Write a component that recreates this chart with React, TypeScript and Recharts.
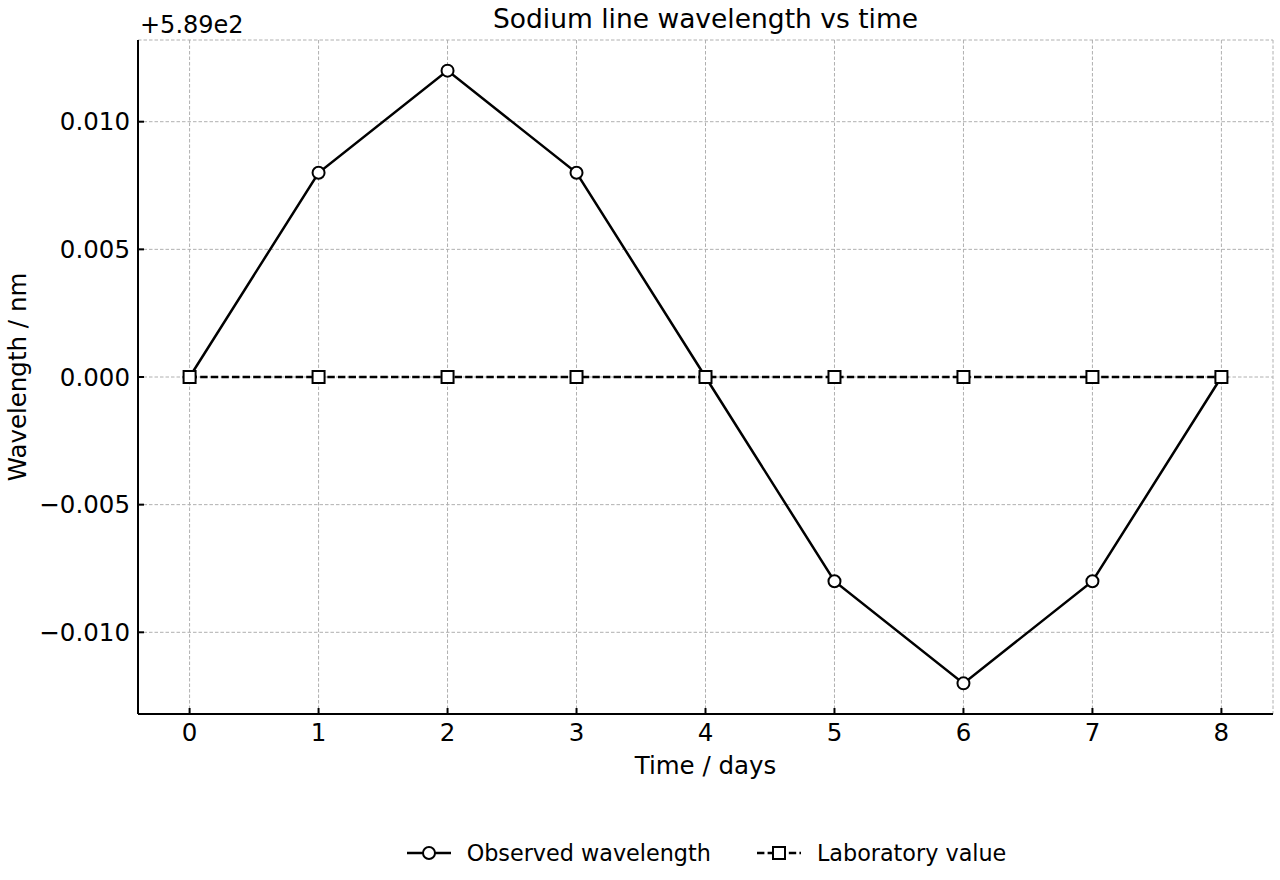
import React from 'react';
import { LineChart, Line, XAxis, YAxis, CartesianGrid } from 'recharts';

// offset from 589 nm (axis shows +5.89e2)
const days = [0, 1, 2, 3, 4, 5, 6, 7, 8];
const observed = [0, 0.008, 0.012, 0.008, 0, -0.008, -0.012, -0.008, 0];
const laboratory = [0, 0, 0, 0, 0, 0, 0, 0, 0];
const xTicks = [0, 1, 2, 3, 4, 5, 6, 7, 8];
const yTicks = [-0.01, -0.005, 0, 0.005, 0.01];

const FONT = '"DejaVu Sans", sans-serif';

const chartData = days.map((d, i) => ({
  day: d,
  observed: observed[i],
  laboratory: laboratory[i],
}));

const fmtY = (v: number) => v.toFixed(3).replace('-', '\u2212');

const Circle = (props: any) => {
  const { cx, cy } = props;
  if (cx == null || cy == null) return null;
  return <circle cx={cx} cy={cy} r={6} fill="#fff" stroke="#000" strokeWidth={2} />;
};

const Square = (props: any) => {
  const { cx, cy } = props;
  if (cx == null || cy == null) return null;
  return <rect x={cx - 6} y={cy - 6} width={12} height={12} fill="#fff" stroke="#000" strokeWidth={2} />;
};

const LegendRow = () => (
  <div
    style={{
      position: 'absolute',
      left: 0,
      width: 1411,
      top: 840,
      display: 'flex',
      justifyContent: 'center',
      alignItems: 'center',
      fontFamily: FONT,
      fontSize: 22.3,
      color: '#000',
    }}
  >
    <svg width={48} height={24} style={{ marginRight: 14 }}>
      <line x1={2} y1={12} x2={46} y2={12} stroke="#000" strokeWidth={2.5} />
      <circle cx={24} cy={12} r={6} fill="#fff" stroke="#000" strokeWidth={2} />
    </svg>
    <span style={{ marginRight: 44 }}>Observed wavelength</span>
    <svg width={48} height={24} style={{ marginRight: 14 }}>
      <line x1={2} y1={12} x2={46} y2={12} stroke="#000" strokeWidth={2.5} strokeDasharray="7.4 3.2" />
      <rect x={18} y={6} width={12} height={12} fill="#fff" stroke="#000" strokeWidth={2} />
    </svg>
    <span>Laboratory value</span>
  </div>
);

export default function App() {
  return (
    <div style={{ position: 'relative', width: 1280, height: 880, background: '#fff' }}>
      <style>{'body{margin:0}'}</style>
      <LineChart
        width={1280}
        height={880}
        data={chartData}
        margin={{ top: 40, right: 7, bottom: 0, left: 8 }}
      >
        <CartesianGrid stroke="#b0b0b0" strokeDasharray="3.5 2" strokeWidth={1} />
        <XAxis
          dataKey="day"
          type="number"
          domain={[-0.4, 8.4]}
          ticks={xTicks}
          height={166}
          tickSize={-6}
          tickMargin={16}
          stroke="#000"
          strokeWidth={2}
          tick={{ fill: '#000', fontSize: 24.5, fontFamily: FONT }}
          label={{
            content: () => (
              <text x={705.5} y={774} textAnchor="middle" fontSize={24.5} fontFamily={FONT} fill="#000">
                Time / days
              </text>
            ),
          }}
        />
        <YAxis
          type="number"
          domain={[-0.0132, 0.0132]}
          ticks={yTicks}
          width={130}
          tickSize={-6}
          tickMargin={14}
          tickFormatter={fmtY}
          stroke="#000"
          strokeWidth={2}
          tick={{ fill: '#000', fontSize: 24.5, fontFamily: FONT }}
          label={{
            content: () => (
              <text
                x={26}
                y={377}
                transform="rotate(-90 26 377)"
                textAnchor="middle"
                fontSize={24.5}
                fontFamily={FONT}
                fill="#000"
              >
                Wavelength / nm
              </text>
            ),
          }}
        />
        <Line
          dataKey="observed"
          stroke="#000"
          strokeWidth={2.5}
          dot={<Circle />}
          activeDot={false}
          isAnimationActive={false}
        />
        <Line
          dataKey="laboratory"
          stroke="#000"
          strokeWidth={2.5}
          strokeDasharray="7.4 3.2"
          dot={<Square />}
          activeDot={false}
          isAnimationActive={false}
        />
        <text x={705.5} y={28} textAnchor="middle" fontSize={26.5} fontFamily={FONT} fill="#000">
          Sodium line wavelength vs time
        </text>
        <text x={140} y={33} fontSize={24} fontFamily={FONT} fill="#000">
          +5.89e2
        </text>
      </LineChart>
      <LegendRow />
    </div>
  );
}
